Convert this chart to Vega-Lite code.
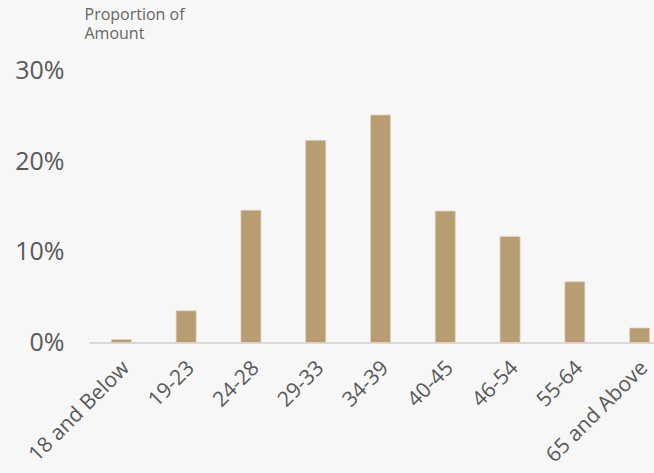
{
  "$schema": "https://vega.github.io/schema/vega-lite/v6.json",
  "autosize": "none",
  "width": 583,
  "height": 272,
  "padding": {"left": 89, "top": 70.5, "right": 0, "bottom": 130.5},
  "background": "#f7f7f7",
  "config": {"view": {"stroke": null}, "font": "Open Sans"},
  "data": {
    "values": [
      {"age": "18 and Below", "share": 0.0033},
      {"age": "19-23", "share": 0.035},
      {"age": "24-28", "share": 0.146},
      {"age": "29-33", "share": 0.223},
      {"age": "34-39", "share": 0.251},
      {"age": "40-45", "share": 0.145},
      {"age": "46-54", "share": 0.117},
      {"age": "55-64", "share": 0.067},
      {"age": "65 and Above", "share": 0.016}
    ]
  },
  "mark": {"type": "bar", "color": "#b89c72", "stroke": "#e3d6c2", "strokeWidth": 0.8},
  "encoding": {
    "x": {
      "field": "age",
      "type": "nominal",
      "sort": null,
      "scale": {"paddingInner": 0.69, "paddingOuter": 0.345},
      "axis": {
        "title": null,
        "labelAngle": -45,
        "labelAlign": "right",
        "labelBaseline": "middle",
        "labelFontSize": 21,
        "labelColor": "#595959",
        "labelPadding": 22,
        "labelOffset": 5,
        "labelOverlap": false,
        "labelBound": false,
        "ticks": false,
        "domainColor": "#d9d9d9",
        "domainWidth": 2
      }
    },
    "y": {
      "field": "share",
      "type": "quantitative",
      "scale": {"domain": [0, 0.3]},
      "axis": {
        "values": [0, 0.1, 0.2, 0.3],
        "format": ".0%",
        "grid": false,
        "domain": false,
        "ticks": false,
        "labelFontSize": 25,
        "labelColor": "#595959",
        "labelPadding": 25,
        "title": ["Proportion of", "Amount"],
        "titleAngle": 0,
        "titleAlign": "left",
        "titleBaseline": "top",
        "titleX": -5,
        "titleY": -64,
        "titleFontSize": 16,
        "titleFontWeight": "normal",
        "titleColor": "#666666",
        "titleLineHeight": 19
      }
    }
  }
}
